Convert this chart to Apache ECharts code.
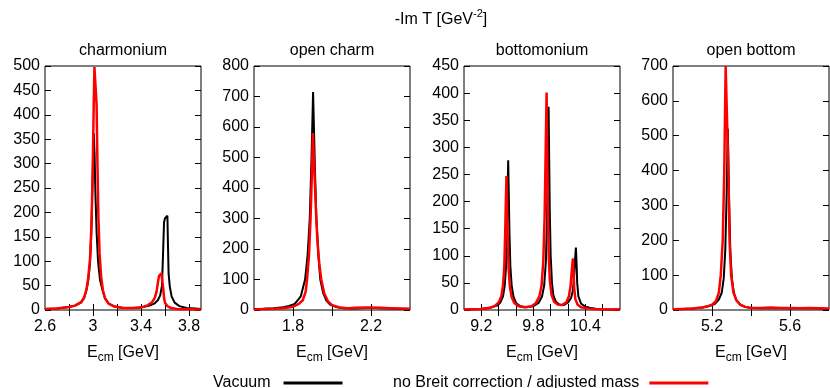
<!DOCTYPE html>
<html>
<head>
<meta charset="utf-8">
<script src="https://cdn.jsdelivr.net/npm/echarts@6/dist/echarts.min.js"></script>
<style>
  html, body { margin: 0; padding: 0; background: #fff; }
  #main { width: 830px; height: 388px; }
</style>
</head>
<body>
<div id="main"></div>
<script>
// values, pairs of [E_cm, -Im T]
const charmVacuum = [
  [2.6, 2], [2.7, 3], [2.8, 6], [2.85, 9], [2.9, 15], [2.925, 24], [2.945, 40], [2.96, 60],
  [2.975, 95], [2.985, 150], [2.993, 230], [3.0, 310], [3.006, 362], [3.013, 320], [3.02, 240],
  [3.03, 160], [3.042, 100], [3.058, 62], [3.08, 40], [3.1, 24], [3.13, 13], [3.18, 7],
  [3.25, 4], [3.35, 4], [3.42, 6], [3.47, 9], [3.51, 13], [3.54, 20], [3.56, 30], [3.575, 50],
  [3.583, 110], [3.592, 180], [3.6, 188], [3.612, 190], [3.62, 193], [3.625, 130], [3.63, 75],
  [3.64, 48], [3.655, 28], [3.68, 15], [3.72, 8], [3.78, 4], [3.85, 3], [3.9, 2]
];
const charmNoBreit = [
  [2.6, 2], [2.7, 3], [2.8, 6], [2.85, 9], [2.9, 16], [2.925, 25], [2.945, 42], [2.96, 65],
  [2.975, 105], [2.988, 180], [2.998, 290], [3.006, 420], [3.012, 498], [3.024, 498],
  [3.03, 420], [3.037, 300], [3.045, 190], [3.055, 115], [3.068, 68], [3.083, 40], [3.1, 24],
  [3.13, 13], [3.18, 7], [3.25, 4], [3.33, 4], [3.4, 5], [3.45, 9], [3.49, 15], [3.515, 25],
  [3.53, 38], [3.54, 55], [3.55, 70], [3.56, 73], [3.57, 75], [3.578, 72], [3.585, 45],
  [3.592, 25], [3.6, 15], [3.62, 8], [3.65, 4], [3.7, 2], [3.8, 1.5], [3.9, 1]
];
const openCharmVacuum = [
  [1.6, 3], [1.65, 4], [1.7, 6], [1.75, 9], [1.78, 13], [1.809, 20], [1.84, 45], [1.862, 100],
  [1.875, 180], [1.886, 300], [1.895, 500], [1.903, 715], [1.908, 580], [1.913, 450],
  [1.92, 300], [1.93, 180], [1.94, 100], [1.955, 55], [1.97, 32], [1.99, 18], [2.02, 10],
  [2.06, 6], [2.1, 5], [2.15, 6], [2.2, 7], [2.25, 6], [2.3, 5], [2.35, 4], [2.4, 3]
];
const openCharmNoBreit = [
  [1.6, 2], [1.65, 3], [1.7, 4], [1.75, 6], [1.8, 11], [1.83, 20], [1.85, 32], [1.865, 60],
  [1.872, 100], [1.882, 180], [1.89, 300], [1.897, 450], [1.902, 580], [1.91, 450],
  [1.918, 320], [1.925, 230], [1.935, 150], [1.945, 100], [1.96, 55], [1.98, 28], [2.0, 16],
  [2.04, 8], [2.08, 6], [2.12, 7], [2.18, 8], [2.25, 7], [2.3, 6], [2.35, 5], [2.4, 4]
];
const bottomVacuum = [
  [9.0, 1], [9.2, 2], [9.3, 4], [9.38, 8], [9.42, 14], [9.45, 25], [9.47, 45], [9.485, 80],
  [9.495, 140], [9.503, 220], [9.51, 276], [9.516, 220], [9.525, 140], [9.535, 80],
  [9.55, 45], [9.57, 25], [9.6, 13], [9.65, 7], [9.72, 5], [9.8, 7], [9.86, 13], [9.9, 25],
  [9.925, 45], [9.945, 90], [9.958, 170], [9.968, 280], [9.976, 375], [9.982, 290],
  [9.99, 180], [10.0, 100], [10.015, 50], [10.03, 28], [10.06, 15], [10.1, 10], [10.15, 9],
  [10.2, 14], [10.235, 22], [10.255, 35], [10.27, 60], [10.28, 90], [10.291, 115],
  [10.298, 90], [10.306, 50], [10.32, 25], [10.35, 12], [10.4, 6], [10.45, 4], [10.5, 3],
  [10.51, 4], [10.53, 2], [10.6, 1.5], [10.7, 1], [10.8, 1]
];
const bottomNoBreit = [
  [9.0, 1], [9.2, 2], [9.3, 4], [9.36, 8], [9.4, 14], [9.43, 25], [9.45, 45], [9.465, 80],
  [9.475, 140], [9.483, 200], [9.49, 247], [9.496, 200], [9.505, 130], [9.515, 75],
  [9.53, 42], [9.55, 24], [9.58, 13], [9.63, 7], [9.7, 5], [9.78, 7], [9.83, 13], [9.87, 25],
  [9.895, 45], [9.915, 90], [9.93, 170], [9.942, 290], [9.953, 401], [9.96, 300],
  [9.968, 180], [9.978, 100], [9.99, 55], [10.01, 28], [10.04, 15], [10.08, 10], [10.13, 9],
  [10.18, 14], [10.21, 25], [10.23, 45], [10.245, 75], [10.257, 95], [10.263, 75],
  [10.272, 40], [10.285, 20], [10.31, 10], [10.35, 5], [10.42, 3], [10.5, 2], [10.6, 1.5],
  [10.8, 1]
];
const openBottomVacuum = [
  [5.0, 2], [5.05, 3], [5.1, 4], [5.15, 7], [5.19, 12], [5.215, 18], [5.235, 30], [5.25, 50],
  [5.26, 90], [5.268, 170], [5.275, 330], [5.281, 520], [5.287, 330], [5.294, 170],
  [5.302, 90], [5.312, 50], [5.325, 28], [5.345, 15], [5.37, 9], [5.4, 6], [5.45, 5],
  [5.5, 6], [5.55, 5], [5.6, 5], [5.65, 5], [5.7, 6], [5.75, 4], [5.8, 3]
];
const openBottomNoBreit = [
  [5.0, 2], [5.05, 3], [5.1, 4], [5.15, 7], [5.18, 11], [5.2, 15], [5.22, 25], [5.235, 50],
  [5.245, 100], [5.255, 200], [5.263, 400], [5.27, 700], [5.278, 700], [5.284, 400],
  [5.29, 200], [5.298, 100], [5.31, 50], [5.325, 28], [5.345, 15], [5.37, 9], [5.4, 6],
  [5.45, 6], [5.5, 7], [5.55, 6], [5.6, 6], [5.65, 5], [5.7, 6], [5.75, 5], [5.8, 4]
];

const panelTitles = ['charmonium', 'open charm', 'bottomonium', 'open bottom'];
const xRanges = [[2.6, 3.9], [1.6, 2.4], [9.0, 10.8], [5.0, 5.8]];
const xTicks = [
  [2.8, 3.0, 3.2, 3.4, 3.6, 3.8],
  [1.8, 2.0, 2.2],
  [9.2, 9.4, 9.6, 9.8, 10.0, 10.2, 10.4, 10.6],
  [5.2, 5.4, 5.6]
];
const xLabels = [[2.6, 3.0, 3.4, 3.8], [1.8, 2.2], [9.2, 9.8, 10.4], [5.2, 5.6]];
const yMax = [500, 800, 450, 700];
const yStep = [50, 100, 50, 100];
const vacuumSets = [charmVacuum, openCharmVacuum, bottomVacuum, openBottomVacuum];
const noBreitSets = [charmNoBreit, openCharmNoBreit, bottomNoBreit, openBottomNoBreit];

const VAC = 'Vacuum';
const NOB = 'no Breit correction / adjusted mass';
const font = '"Liberation Sans", Arial, sans-serif';
const gridLeft = [45, 254, 464, 673];
const gridWidth = 156;
const gridTop = 66;
const gridHeight = 244;

let grids = [], xAxes = [], yAxes = [], series = [], graphics = [];

panelTitles.forEach((title, i) => {
    grids.push({
        left: gridLeft[i], top: gridTop, width: gridWidth, height: gridHeight,
        show: true, borderColor: '#000', borderWidth: 1, containLabel: false,
        outerBoundsMode: 'none'
    });
    let tick = {inside: true, length: 6, lineStyle: {color: '#000', width: 1}};
    xAxes.push({
        type: 'value', gridIndex: i, position: 'bottom',
        min: xRanges[i][0], max: xRanges[i][1],
        axisLine: {show: false}, splitLine: {show: false},
        axisTick: {...tick, customValues: xTicks[i]},
        axisLabel: {
            customValues: xLabels[i], color: '#000', fontSize: 16, fontFamily: font, margin: 9,
            formatter: v => String(+v.toFixed(1))
        },
        name: '{e|E}{s|cm}{e| [GeV]}', nameLocation: 'middle', nameGap: 35,
        nameTextStyle: {
            rich: {
                e: {fontSize: 16, fontFamily: font, color: '#000', lineHeight: 18, verticalAlign: 'top'},
                s: {fontSize: 12, fontFamily: font, color: '#000', lineHeight: 14, padding: [8, 0, 0, 0]}
            }
        }
    });
    xAxes.push({
        type: 'value', gridIndex: i, position: 'top',
        min: xRanges[i][0], max: xRanges[i][1],
        axisLine: {show: false}, splitLine: {show: false}, axisLabel: {show: false},
        axisTick: {...tick, customValues: xTicks[i]}
    });
    yAxes.push({
        type: 'value', gridIndex: i, position: 'left',
        min: 0, max: yMax[i], interval: yStep[i],
        axisLine: {show: false}, splitLine: {show: false}, axisTick: tick,
        axisLabel: {color: '#000', fontSize: 16, fontFamily: font, margin: 5}
    });
    yAxes.push({
        type: 'value', gridIndex: i, position: 'right',
        min: 0, max: yMax[i], interval: yStep[i],
        axisLine: {show: false}, splitLine: {show: false}, axisTick: tick,
        axisLabel: {show: false}
    });
    series.push({
        name: VAC, type: 'line', xAxisIndex: 2 * i, yAxisIndex: 2 * i,
        data: vacuumSets[i], showSymbol: false, color: '#000',
        lineStyle: {color: '#000', width: 2}
    });
    series.push({
        name: NOB, type: 'line', xAxisIndex: 2 * i, yAxisIndex: 2 * i,
        data: noBreitSets[i], showSymbol: false, color: '#ff0000',
        lineStyle: {color: '#ff0000', width: 2.5}
    });
    graphics.push({
        type: 'text', x: gridLeft[i] + gridWidth / 2, y: 51,
        style: {text: title, fill: '#000', font: '16px ' + font, align: 'center', verticalAlign: 'middle'}
    });
});

graphics.push({
    type: 'text', x: 441, y: 18,
    style: {
        text: '{t|-Im T [GeV}{p|-2}{t|]}', align: 'center', verticalAlign: 'middle',
        rich: {
            t: {fontSize: 16, fontFamily: font, fill: '#000', lineHeight: 20, padding: [4, 0, 0, 0]},
            p: {fontSize: 11, fontFamily: font, fill: '#000', lineHeight: 12, verticalAlign: 'top'}
        }
    }
});

let legendBase = {
    top: 375, padding: 0, align: 'right', icon: 'rect', itemWidth: 59, itemHeight: 3
};

let option = {
    animation: false,
    grid: grids,
    xAxis: xAxes,
    yAxis: yAxes,
    legend: [
        {...legendBase, left: 213, data: [VAC],
            textStyle: {fontSize: 16, fontFamily: font, color: '#000', padding: [0, 8, 0, 0]}},
        {...legendBase, left: 393, data: [NOB],
            textStyle: {fontSize: 16, fontFamily: font, color: '#000', padding: [0, 5, 0, 0]}}
    ],
    graphic: graphics,
    series: series
};

let myChart = echarts.init(document.getElementById('main'));
myChart.setOption(option);
</script>
</body>
</html>
